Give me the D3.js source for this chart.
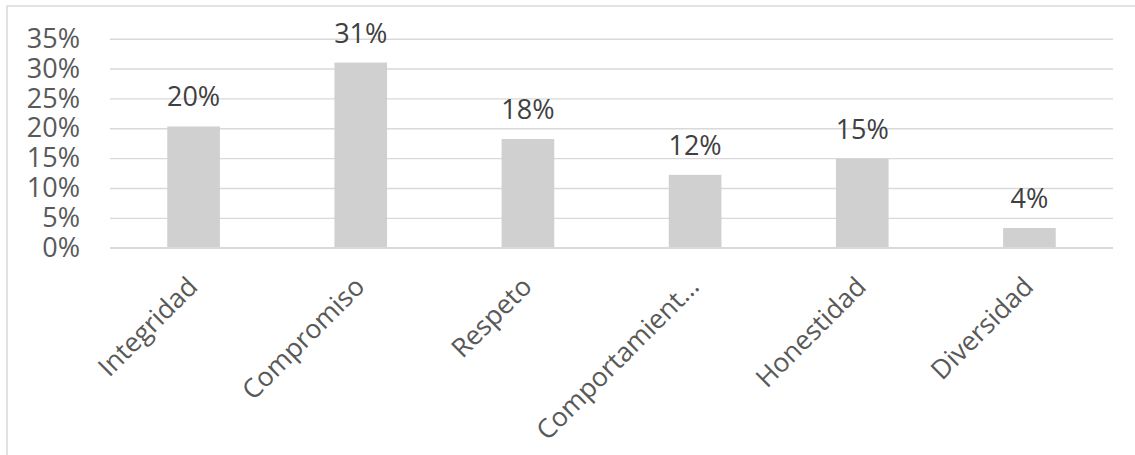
<!DOCTYPE html>
<html>
<head>
<meta charset="utf-8">
<script src="https://cdn.jsdelivr.net/npm/d3@7"></script>
<style>
  html, body { margin: 0; padding: 0; background: #ffffff; }
  svg { display: block; }
</style>
</head>
<body>
<svg id="chart" width="1135" height="455"></svg>
<script>
const categories = ["Integridad", "Compromiso", "Respeto", "Comportamient\u2026", "Honestidad", "Diversidad"];
const values = [0.203, 0.31, 0.182, 0.122, 0.149, 0.033];
const valueLabels = ["20%", "31%", "18%", "12%", "15%", "4%"];
const yTicks = [0, 0.05, 0.10, 0.15, 0.20, 0.25, 0.30, 0.35];

const svg = d3.select("#chart");
const W = 1135, H = 455;
const m = { left: 110, right: 22, top: 38.7, bottom: 207.3 };

// outer chart border
svg.append("rect")
  .attr("x", 7).attr("y", 6)
  .attr("width", W + 10).attr("height", H + 10)
  .attr("fill", "none").attr("stroke", "#d9d9d9").attr("stroke-width", 1.5);

const x = d3.scaleBand().domain(categories).range([m.left, W - m.right]).paddingInner(0.685).paddingOuter(0.3425);
const y = d3.scaleLinear().domain([0, 0.35]).range([H - m.bottom, m.top]);

// gridlines
svg.append("g")
  .attr("transform", `translate(${m.left},0)`)
  .call(d3.axisLeft(y).tickValues(yTicks).tickSize(-(W - m.right - m.left)).tickFormat(""))
  .call(g => g.select(".domain").remove())
  .call(g => g.selectAll("line").attr("stroke", "#d9d9d9").attr("stroke-width", 1.4));

// y labels
svg.append("g")
  .attr("transform", `translate(80,0)`)
  .call(d3.axisLeft(y).tickValues(yTicks).tickSize(0).tickPadding(0).tickFormat(d3.format(".0%")))
  .call(g => g.select(".domain").remove())
  .call(g => g.selectAll("text")
    .attr("font-family", "'Open Sans', sans-serif")
    .attr("font-size", 27)
    .attr("fill", "#595959"));

// bars
svg.append("g").selectAll("rect")
  .data(categories)
  .join("rect")
  .attr("x", d => x(d))
  .attr("width", x.bandwidth())
  .attr("y", (d, i) => y(values[i]))
  .attr("height", (d, i) => y(0) - y(values[i]))
  .attr("fill", "#d0d0d0");

// baseline axis
svg.append("line")
  .attr("x1", m.left).attr("x2", W - m.right)
  .attr("y1", y(0)).attr("y2", y(0))
  .attr("stroke", "#d9d9d9").attr("stroke-width", 1.6);

// data labels
svg.append("g").selectAll("text")
  .data(categories)
  .join("text")
  .attr("x", d => x(d) + x.bandwidth() / 2)
  .attr("y", (d, i) => y(values[i]) - 20)
  .attr("text-anchor", "middle")
  .attr("font-family", "'Open Sans', sans-serif")
  .attr("font-size", 27)
  .attr("fill", "#404040")
  .text((d, i) => valueLabels[i]);

// x labels, rotated
svg.append("g")
  .attr("transform", `translate(0,${y(0)})`)
  .call(d3.axisBottom(x).tickSize(0).tickPadding(0))
  .call(g => g.select(".domain").remove())
  .call(g => g.selectAll("text")
    .attr("font-family", "'Open Sans', sans-serif")
    .attr("font-size", 26.5)
    .attr("fill", "#595959")
    .attr("text-anchor", "end")
    .attr("dy", "0.35em")
    .attr("x", 0).attr("y", 0)
    .attr("transform", "translate(-1,34) rotate(-45)"));
</script>
</body>
</html>
